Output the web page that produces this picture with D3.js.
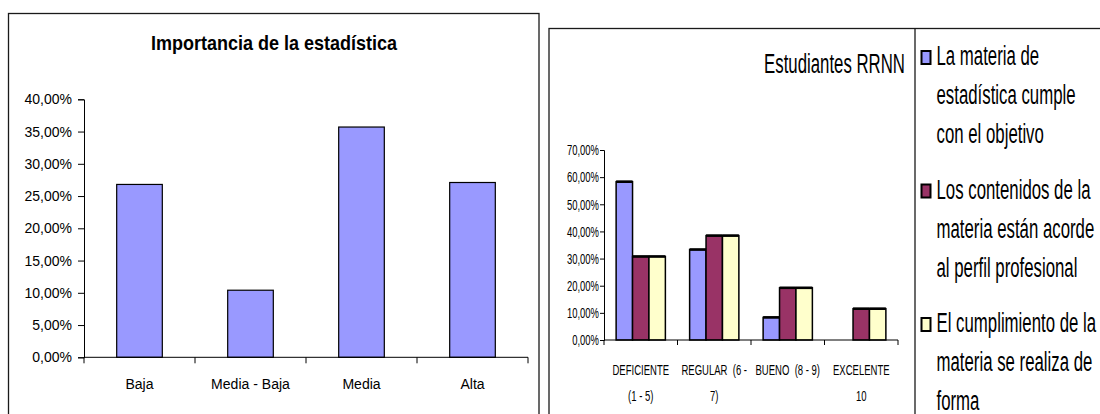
<!DOCTYPE html>
<html><head><meta charset="utf-8">
<script src="https://cdn.jsdelivr.net/npm/d3@7"></script>
<style>
body{margin:0;background:#fff;overflow:hidden}
svg text{font-family:"Liberation Sans",Arial,sans-serif;white-space:pre;fill:#000}
</style>
</head><body>
<svg id="c" width="1100" height="414"></svg>
<script>
// ---------- data ----------
const leftTitle = "Importancia de la estadística";
const leftCategories = ["Baja", "Media - Baja", "Media", "Alta"];
const leftValues = [0.268, 0.104, 0.357, 0.271];
const leftTicks = [0, 0.05, 0.10, 0.15, 0.20, 0.25, 0.30, 0.35, 0.40];

const rightTitle = "Estudiantes RRNN";
const rightCategories = ["DEFICIENTE (1 - 5)", "REGULAR (6 - 7)", "BUENO (8 - 9)", "EXCELENTE 10"];
const rightLabelLines = [["DEFICIENTE", "(1 - 5)"], ["REGULAR  (6 -", "7)"], ["BUENO  (8 - 9)", ""], ["EXCELENTE", "10"]];
const seriesKeys = ["objetivo", "contenidos", "cumplimiento"];
const seriesObjetivo = [0.5833, 0.3333, 0.0833, 0];
const seriesContenidos = [0.3077, 0.3846, 0.1923, 0.1154];
const seriesCumplimiento = [0.3077, 0.3846, 0.1923, 0.1154];
const legendLines = [
  ["La materia de", "estadística cumple", "con el objetivo"],
  ["Los contenidos de la", "materia están acorde", "al perfil profesional"],
  ["El cumplimiento de la", "materia se realiza de", "forma"]
];
const rightTicks = [0, 0.1, 0.2, 0.3, 0.4, 0.5, 0.6, 0.7];
const seriesColors = ["#9999FF", "#993366", "#FFFFCC"];

// ---------- helpers ----------
const loc = d3.formatLocale({decimal: ",", thousands: ".", grouping: [3], currency: ["", "€"]});
const pct = loc.format(".2%");
const svg = d3.select("#c");
function ctext(g, x, y, str, size, sx, anchor, weight) {
  return g.append("text")
    .attr("transform", `translate(${x},${y}) scale(${sx},1)`)
    .attr("text-anchor", anchor || "start")
    .style("font-size", size + "px")
    .style("font-weight", weight || "normal")
    .text(str);
}

// ---------- left chart ----------
const L = svg.append("g");
L.append("rect").attr("x", 8.5).attr("y", 13.5).attr("width", 530.5).attr("height", 500)
  .attr("fill", "#fff").attr("stroke", "#1a1a1a").attr("stroke-width", 1.3);
ctext(L, 274, 50, leftTitle, 20, 0.9, "middle", "bold");

const lx = d3.scaleBand().domain(leftCategories).range([84, 528]).paddingInner(0.589).paddingOuter(0.2945);
const ly = d3.scaleLinear().domain([0, 0.4]).range([357.3, 99.3]);

const lyAxis = L.append("g").attr("transform", "translate(84,0)")
  .call(d3.axisLeft(ly).tickValues(leftTicks).tickFormat(pct).tickSize(6).tickPadding(6));
lyAxis.select(".domain").attr("stroke", "#000");
lyAxis.selectAll("text").style("font-size", "14px").style("font-family", '"Liberation Sans",Arial,sans-serif');

L.selectAll("rect.bar").data(leftValues).join("rect").attr("class", "bar")
  .attr("x", (d, i) => lx(leftCategories[i]))
  .attr("y", d => ly(d))
  .attr("width", lx.bandwidth())
  .attr("height", d => ly(0) - ly(d))
  .attr("fill", "#9999FF").attr("stroke", "#000").attr("stroke-width", 1.2);

const lStep = lx.step();
const lBounds = d3.range(leftCategories.length + 1).map(i => lx.range()[0] + i * lStep);
L.append("line").attr("x1", lBounds[0]).attr("x2", lBounds[lBounds.length - 1])
  .attr("y1", ly(0)).attr("y2", ly(0)).attr("stroke", "#000");
L.selectAll("line.xt").data(lBounds).join("line").attr("class", "xt")
  .attr("x1", d => d).attr("x2", d => d).attr("y1", ly(0)).attr("y2", ly(0) + 6).attr("stroke", "#000");
leftCategories.forEach(c => ctext(L, lx(c) + lx.bandwidth() / 2, 389, c, 14.5, 0.97, "middle"));

// ---------- right chart ----------
const R = svg.append("g");
R.append("rect").attr("x", 549).attr("y", 28.5).attr("width", 600).attr("height", 500)
  .attr("fill", "#fff").attr("stroke", "#1a1a1a").attr("stroke-width", 1.3);
R.append("line").attr("x1", 915).attr("x2", 915).attr("y1", 28.5).attr("y2", 414)
  .attr("stroke", "#1a1a1a").attr("stroke-width", 1.3);
ctext(R, 905, 73, rightTitle, 28, 0.6, "end");

const rx0 = d3.scaleBand().domain(rightCategories).range([604, 898]).paddingInner(0.33).paddingOuter(0.165);
const rx1 = d3.scaleBand().domain(seriesKeys).range([0, rx0.bandwidth()]);
const ry = d3.scaleLinear().domain([0, 0.7]).range([340, 150]);

const rSX = 0.63;
const ryAxis = R.append("g").attr("transform", "translate(604,0)")
  .call(d3.axisLeft(ry).tickValues(rightTicks).tickFormat(pct).tickSize(4).tickPadding(1));
ryAxis.select(".domain").attr("stroke", "#000");
ryAxis.selectAll("text").style("font-size", "15px").style("font-family", '"Liberation Sans",Arial,sans-serif')
  .attr("x", -5 / rSX).attr("transform", `scale(${rSX},1)`);

const series = [seriesObjetivo, seriesContenidos, seriesCumplimiento];
const flat = [];
series.forEach((vals, s) => vals.forEach((v, i) => flat.push({s, i, v})));
const barsData = flat.filter(d => d.v > 0);
R.selectAll("rect.rbar").data(barsData).join("rect").attr("class", "rbar")
  .attr("x", d => rx0(rightCategories[d.i]) + rx1(seriesKeys[d.s]))
  .attr("y", d => ry(d.v))
  .attr("width", rx1.bandwidth())
  .attr("height", d => ry(0) - ry(d.v))
  .attr("fill", d => seriesColors[d.s]).attr("stroke", "#000").attr("stroke-width", 1.5);
R.selectAll("line.rtop").data(barsData).join("line").attr("class", "rtop")
  .attr("x1", d => rx0(rightCategories[d.i]) + rx1(seriesKeys[d.s]))
  .attr("x2", d => rx0(rightCategories[d.i]) + rx1(seriesKeys[d.s]) + rx1.bandwidth())
  .attr("y1", d => ry(d.v)).attr("y2", d => ry(d.v))
  .attr("stroke", "#000").attr("stroke-width", 2.6);

const rStep = rx0.step();
const rBounds = d3.range(rightCategories.length + 1).map(i => rx0.range()[0] + i * rStep);
R.append("line").attr("x1", rBounds[0]).attr("x2", rBounds[rBounds.length - 1])
  .attr("y1", ry(0)).attr("y2", ry(0)).attr("stroke", "#000");
R.selectAll("line.rxt").data(rBounds).join("line").attr("class", "rxt")
  .attr("x1", d => d).attr("x2", d => d).attr("y1", ry(0)).attr("y2", ry(0) + 5).attr("stroke", "#000");
rightCategories.forEach((c, i) => {
  const cx = rx0(c) + rx0.bandwidth() / 2;
  ctext(R, cx, 375, rightLabelLines[i][0], 14, 0.68, "middle");
  if (rightLabelLines[i][1]) ctext(R, cx, 401, rightLabelLines[i][1], 14, 0.68, "middle");
});

// legend
legendLines.forEach((lines, k) => {
  const base = 65 + k * 133.5;
  R.append("rect").attr("x", 921.5).attr("y", base - 14).attr("width", 9).attr("height", 13)
    .attr("fill", seriesColors[k]).attr("stroke", "#000").attr("stroke-width", 2);
  lines.forEach((t, j) => ctext(R, 936.5, base + j * 39, t, 28, 0.6, "start"));
});
</script>
</body></html>
